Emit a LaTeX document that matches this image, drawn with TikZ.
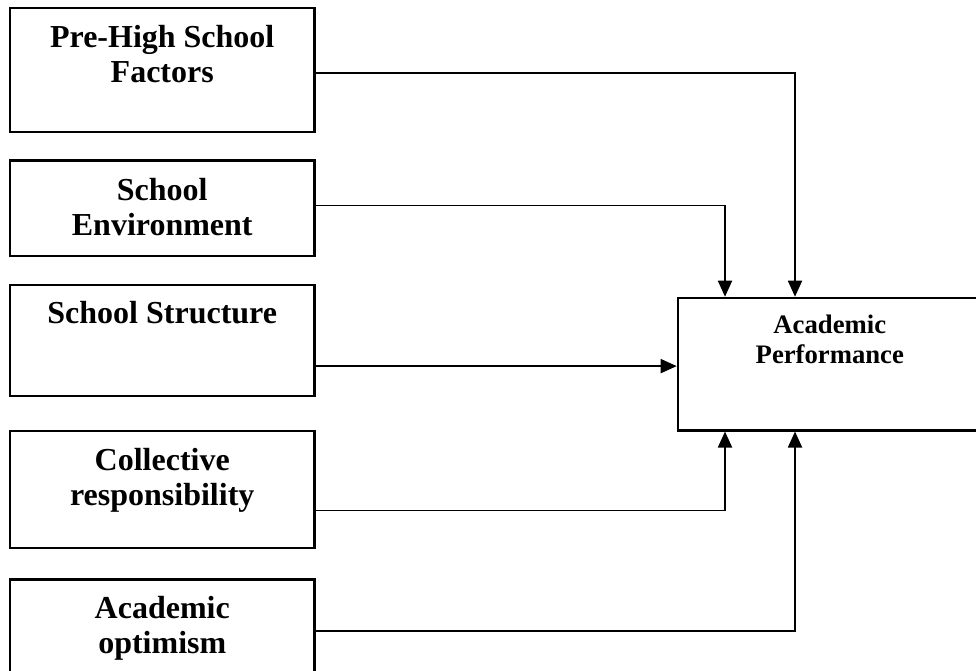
\documentclass[tikz,border=0pt]{standalone}
\usepackage{fontspec}
\setmainfont{Liberation Serif}
\usetikzlibrary{arrows.meta,calc}
\begin{document}
\begin{tikzpicture}[x=1pt,y=-1pt,
  box/.style={draw,line width=2.2pt,minimum width=304.3pt,inner sep=0pt,anchor=north west},
  arr/.style={line width=1.8pt,-{Triangle[length=16pt,width=14pt]}},
  lbl/.style={anchor=base,inner sep=0pt,font=\fontsize{32}{35}\selectfont\bfseries},
  lbls/.style={anchor=base,inner sep=0pt,font=\fontsize{26.7}{30}\selectfont\bfseries}]
\useasboundingbox (0,0) rectangle (976,670);
\clip (0,0) rectangle (976,670);
\node[box,minimum height=124.3pt] (b1) at (9,6.7) {};
\node[box,minimum height=95.7pt] (b2) at (9,159.3) {};
\node[box,minimum height=111pt] (b3) at (9,284) {};
\node[box,minimum height=116.7pt] (b4) at (9,430) {};
\node[box,minimum height=106.7pt] (b5) at (9,578.3) {};
\node[box,minimum width=304pt,minimum height=132.6pt] (ap) at (676.7,296.7) {};
\node[lbl] (t1) at ($(b1.north)+(0,40.3)$) {\begin{tabular}[t]{@{}c@{}}Pre-High School\\Factors\end{tabular}};
\node[lbl] (t2) at ($(b2.north)+(0,40.7)$) {\begin{tabular}[t]{@{}c@{}}School\\Environment\end{tabular}};
\node[lbl] (t3) at ($(b3.north)+(0,39.5)$) {\begin{tabular}[t]{@{}c@{}}School Structure\end{tabular}};
\node[lbl] (t4) at ($(b4.north)+(0,40)$) {\begin{tabular}[t]{@{}c@{}}Collective\\responsibility\end{tabular}};
\node[lbl] (t5) at ($(b5.north)+(0,40)$) {\begin{tabular}[t]{@{}c@{}}Academic\\optimism\end{tabular}};
\node[lbls] (t6) at ($(ap.north)+(0,36.6)$) {\begin{tabular}[t]{@{}c@{}}Academic\\Performance\end{tabular}};
\draw[arr] ([yshift=-2.85pt]b1.east) -| ([xshift=118.3pt]ap.north west);
\draw[arr] ([yshift=2.85pt]b2.east) -| ([xshift=48.3pt]ap.north west);
\coordinate (s3) at ([yshift=-25.5pt]b3.east);
\draw[arr] (s3) -- (s3 -| ap.west);
\draw[arr] ([yshift=-21pt]b4.east) -| ([xshift=48.3pt]ap.south west);
\draw[arr] ([yshift=2.15pt]b5.east) -| ([xshift=118.3pt]ap.south west);
\end{tikzpicture}
\end{document}
